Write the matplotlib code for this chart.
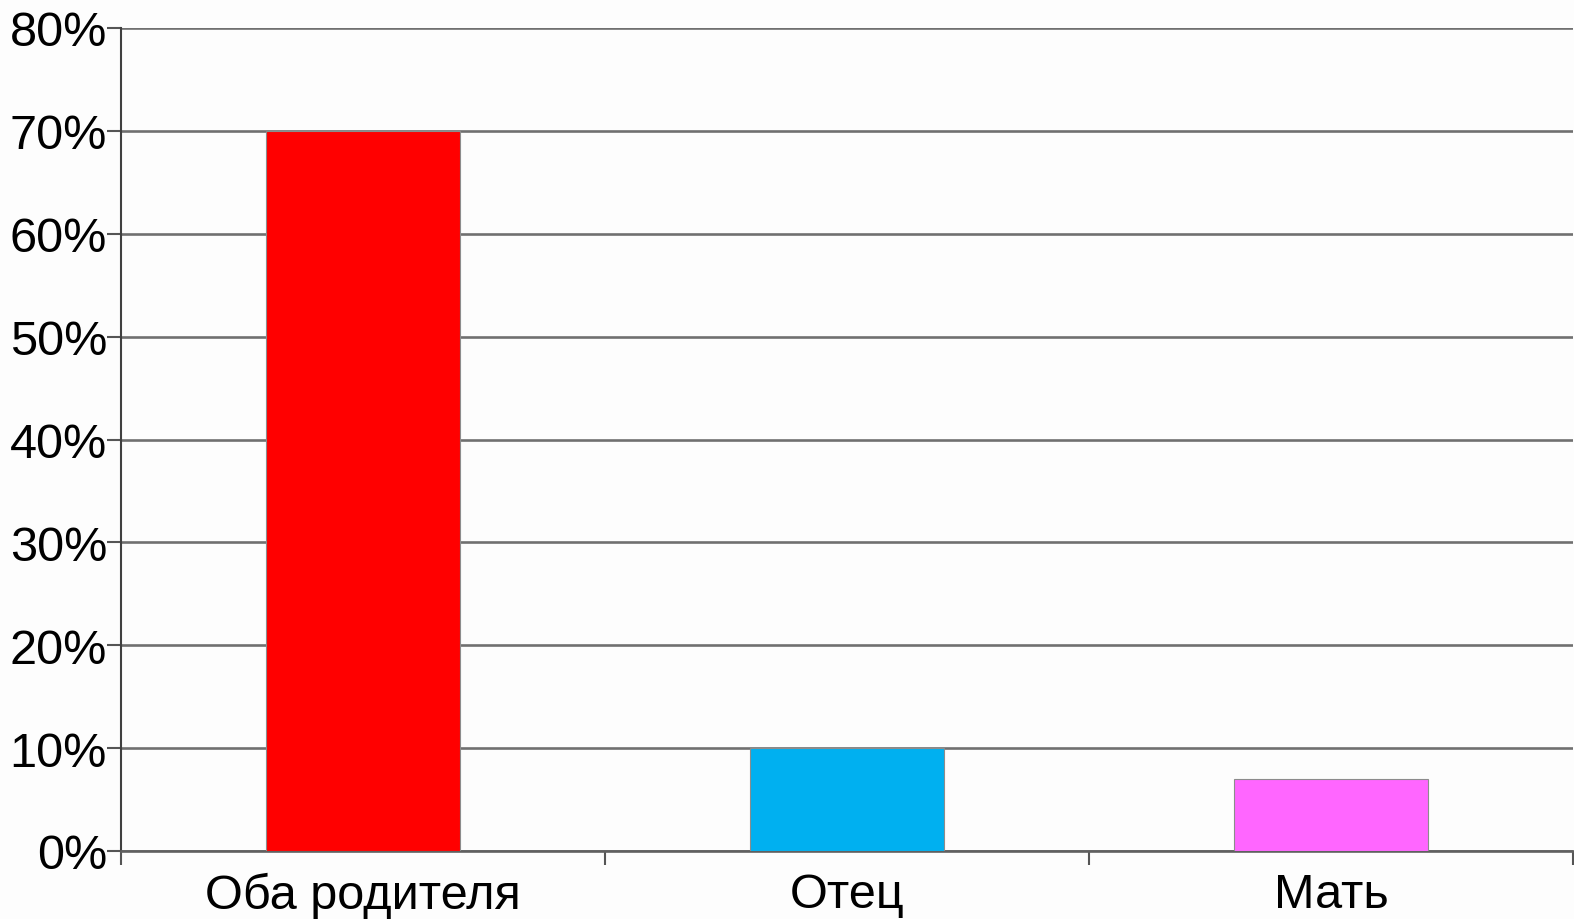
import numpy as np
import matplotlib.pyplot as plt
from matplotlib.ticker import FixedLocator, PercentFormatter

plt.rcParams['font.family'] = ['Liberation Sans', 'DejaVu Sans']

# who the child lives with
categories = ['Оба родителя', 'Отец', 'Мать']
shares = [70, 10, 7]
colors = ['#FF0000', '#00B0F0', '#FF66FF']

fig = plt.figure(figsize=(15.74, 9.20), dpi=100)
fig.patch.set_facecolor('#FDFDFD')
ax = fig.add_axes([121/1574, 68/920, 1452/1574, 823/920])
ax.set_facecolor('#FDFDFD')

x = np.arange(len(categories))
ax.bar(x, shares, width=0.4, color=colors, edgecolor='#8C8C8C', linewidth=0.8, zorder=3)

ax.set_xlim(-0.5, len(categories) - 0.5)
ax.set_ylim(0, 80)
ax.set_yticks(np.arange(0, 81, 10))
ax.yaxis.set_major_formatter(PercentFormatter(decimals=0))
ax.yaxis.grid(True, color='#707070', linewidth=1.9, zorder=1)

# labels in the middle, tick marks on the category boundaries
ax.set_xticks(x)
ax.set_xticklabels(categories)
ax.xaxis.set_minor_locator(FixedLocator(np.arange(len(categories) + 1) - 0.5))
ax.tick_params(axis='x', which='major', length=0, pad=15, labelsize=35)
ax.tick_params(axis='x', which='minor', length=10, width=1.5, color='#555555')
ax.tick_params(axis='y', length=10, width=1.5, color='#555555', pad=0, labelsize=35)

for side in ['top', 'right']:
    ax.spines[side].set_visible(False)
ax.spines['left'].set_color('#404040')
ax.spines['left'].set_linewidth(1.5)
ax.spines['bottom'].set_color('#606060')
ax.spines['bottom'].set_linewidth(1.9)

fig.savefig('out.png', dpi=100, facecolor=fig.get_facecolor())
